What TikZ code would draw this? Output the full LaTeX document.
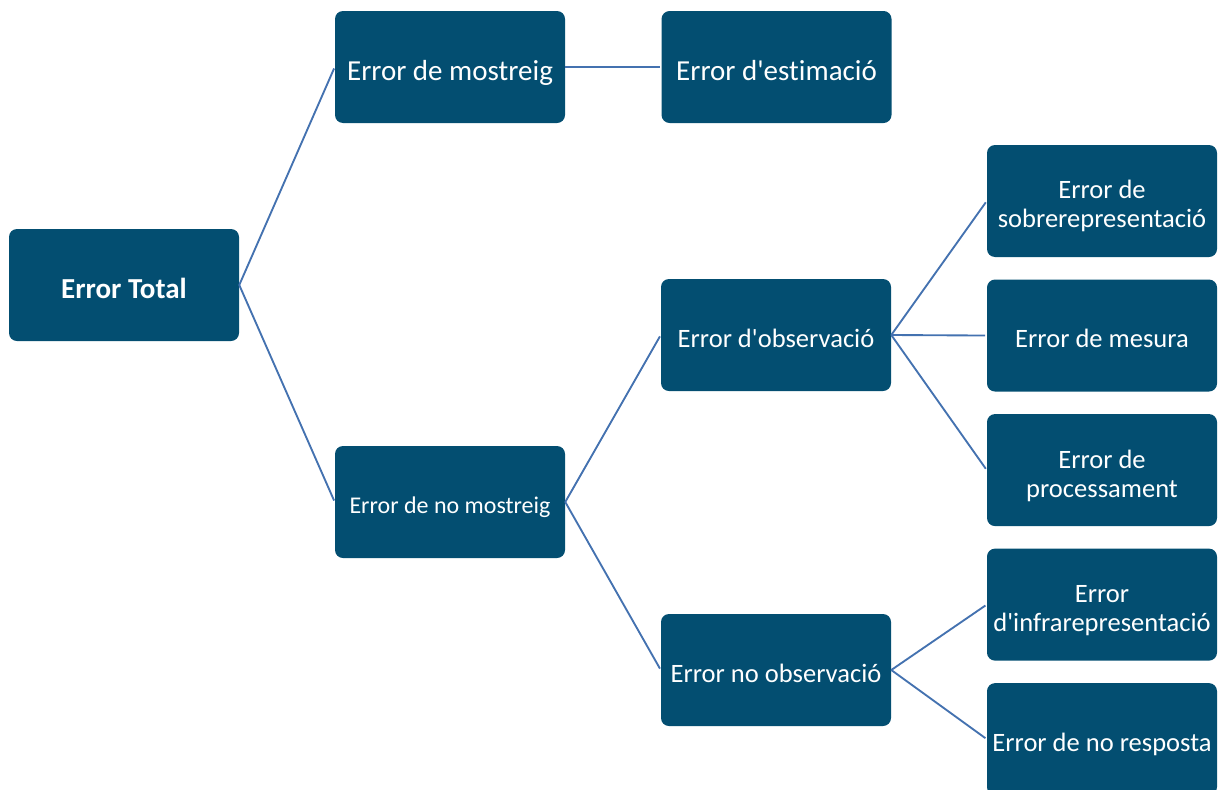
\documentclass[tikz,border=0pt]{standalone}
\usepackage{fontspec}
\setmainfont{Carlito}[Ligatures={ResetAll,NoCommon}]
\usetikzlibrary{positioning}
\definecolor{errbox}{RGB}{3,78,113}
\definecolor{errline}{RGB}{68,114,176}
\tikzset{
  errnode/.style={shape=rectangle,rounded corners=6pt,fill=errbox,text=white,minimum width=172.5pt,minimum height=84pt,inner sep=0pt},
  errlink/.style={draw=errline,line width=1.4pt,shorten >=1.2pt}
}
\newcommand\errsize[1]{\fontsize{#1}{21.75pt}\selectfont}
\newcommand\errtext[1]{\raisebox{-0.25em}[\height][\depth]{\begin{tabular}{@{}c@{}}#1\end{tabular}}}
\newcommand\squote{\XeTeXglyph\XeTeXcharglyph"27\relax}

\begin{document}
\begin{tikzpicture}[x=0.75pt, y=-0.75pt, every node/.style={font=\errsize{19.9pt}}]
\useasboundingbox (0,0) rectangle (1220,789);
% left and top
\node[errnode, font=\errsize{21.75pt}\bfseries] (total) at (124,285) {\errtext{Error Total}};
\node[errnode, font=\errsize{21.75pt}] (mostreig) at (450,67) {\errtext{Error de mostreig}};
\node[errnode, font=\errsize{21.75pt}, right=72pt of mostreig] (estimacio) {\errtext{Error d\squote estimació}};
\node[errnode, font=\errsize{18pt}] (nomostreig) at (450,502) {\errtext{Error de no mostreig}};
% middle column
\node[errnode] (observacio) at (776,335) {\errtext{Error d\squote observació}};
\node[errnode] (noobservacio) at (776,670) {\errtext{Error no observació}};
% right column
\node[errnode] (sobre) at (1102,201) {\errtext{Error de\\sobrerepresentació}};
\node[errnode, below=16.5pt of sobre] (mesura) {\errtext{Error de mesura}};
\node[errnode, below=16.5pt of mesura] (process) {\errtext{Error de\\processament}};
\node[errnode, below=16.5pt of process] (infra) {\errtext{Error\\d\squote infrarepresentació}};
\node[errnode, below=16.5pt of infra] (resposta) {\errtext{Error de no resposta}};
% links
\draw[errlink] (total.east) -- (mostreig.west);
\draw[errlink] (total.east) -- (nomostreig.west);
\draw[errlink] (mostreig.east) -- (estimacio.west);
\draw[errlink] (nomostreig.east) -- (observacio.west);
\draw[errlink] (nomostreig.east) -- (noobservacio.west);
\draw[errlink] (observacio.east) -- (sobre.west);
\draw[errlink] (observacio.east) -- (mesura.west);
\draw[errlink] (observacio.east) -- (process.west);
\draw[errlink] (noobservacio.east) -- (infra.west);
\draw[errlink] (noobservacio.east) -- (resposta.west);
\end{tikzpicture}
\end{document}
